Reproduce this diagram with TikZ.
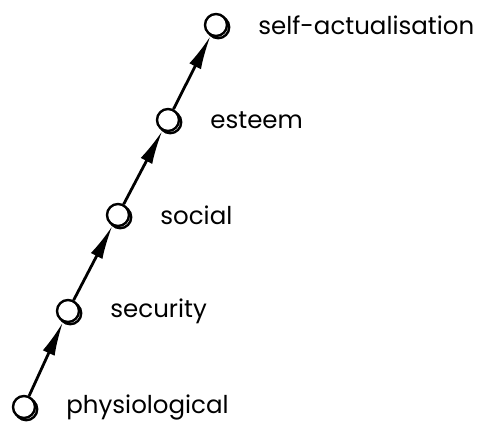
\documentclass[tikz,border=0pt]{standalone}
\usepackage{fontspec}
\setmainfont{Poppins}
\usetikzlibrary{arrows.meta,positioning,shadows}

\begin{document}
\begin{tikzpicture}[
  x=1pt,y=1pt,
  font=\fontsize{24.5}{28}\selectfont,
  need/.style={circle,draw,line width=2.4pt,fill=white,minimum size=22pt,inner sep=0pt,
    copy shadow={shadow xshift=2.2pt,shadow yshift=-2.2pt}},
  lbl/.style={inner sep=0pt},
  arr/.style={-{Latex[length=34pt,width=13pt]},line width=2.8pt}
]
\useasboundingbox (0,0) rectangle (477,425);
\node[need] (phys) at (24,18)  {};
\node[need] (sec)  at (68,114) {};
\node[need] (soc)  at (118,210) {};
\node[need] (est)  at (168,305) {};
\node[need] (self) at (216,400) {};

\node[lbl, right=30pt of phys] (physl) {physiological};
\node[lbl, right=30pt of sec]  (secl)  {security};
\node[lbl, right=30pt of soc]  (socl)  {social};
\node[lbl, right=30pt of est]  (estl)  {esteem};
\node[lbl, right=30pt of self] (selfl) {self-actualisation};

\draw[arr] (phys) -- (sec);
\draw[arr] (sec)  -- (soc);
\draw[arr] (soc)  -- (est);
\draw[arr] (est)  -- (self);
\end{tikzpicture}
\end{document}
